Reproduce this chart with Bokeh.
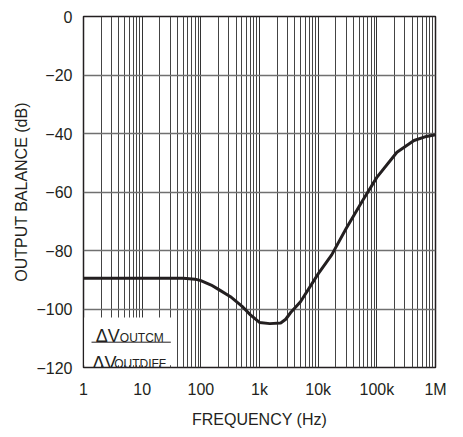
from bokeh.plotting import figure
from bokeh.models import FixedTicker, BoxAnnotation, Label, Range1d
from bokeh.embed import file_html
from bokeh.resources import INLINE

# ---- data ----
freq_hz = [1, 10, 50, 80, 100, 150, 200, 320, 500, 700, 1000, 1500, 2300, 2800,
           3400, 5000, 10000, 17000, 30000, 57000, 100000, 220000, 430000, 700000, 1000000]
balance_db = [-89.5, -89.5, -89.5, -89.8, -90.3, -91.8, -93.3, -95.8, -99.0, -102.0,
              -104.6, -105.0, -104.8, -103.5, -101.2, -97.5, -88.0, -81.5, -72.5, -63.0,
              -55.0, -46.4, -42.4, -41.0, -40.4]
x_ticks = [1, 10, 100, 1000, 10000, 100000, 1000000]
x_tick_labels = ["1", "10", "100", "1k", "10k", "100k", "1M"]
y_ticks = [0, -20, -40, -60, -80, -100, -120]
y_tick_labels = ["0", "\u221220", "\u221240", "\u221260", "\u221280", "\u2212100", "\u2212120"]
x_minor = [m * d for d in [1, 10, 100, 1000, 10000, 100000] for m in range(2, 10)]

FONT = "'Liberation Sans', Arial, sans-serif"
INK = "#231f20"

p = figure(width=463, height=437, x_axis_type="log", output_backend="svg",
           toolbar_location=None, x_range=Range1d(1, 1e6), y_range=Range1d(-120, 0),
           min_border_left=83, min_border_right=28, min_border_top=16, min_border_bottom=70)
p.background_fill_color = "white"
p.border_fill_color = "white"
p.outline_line_color = INK
p.outline_line_width = 1.5

p.xaxis.ticker = FixedTicker(ticks=x_ticks, minor_ticks=x_minor)
p.yaxis.ticker = FixedTicker(ticks=y_ticks)
p.xaxis.major_label_overrides = {float(t): l for t, l in zip(x_ticks, x_tick_labels)}
p.yaxis.major_label_overrides = {float(t): l for t, l in zip(y_ticks, y_tick_labels)}

for ax in (p.xaxis[0], p.yaxis[0]):
    ax.axis_line_color = None
    ax.major_tick_line_color = None
    ax.minor_tick_line_color = None
    ax.major_tick_out = 0
    ax.major_tick_in = 0
    ax.minor_tick_out = 0
    ax.minor_tick_in = 0
    ax.major_label_text_font = FONT
    ax.major_label_text_font_size = "16px"
    ax.major_label_text_color = INK
    ax.axis_label_text_font = FONT
    ax.axis_label_text_font_size = "16px"
    ax.axis_label_text_font_style = "normal"
    ax.axis_label_text_color = INK

p.xaxis.axis_label = "FREQUENCY (Hz)"
p.yaxis.axis_label = "OUTPUT BALANCE (dB)"
p.xaxis.major_label_standoff = 13
p.yaxis.major_label_standoff = 11
p.xaxis.axis_label_standoff = 10
p.yaxis.axis_label_standoff = 3

p.xgrid.grid_line_color = "#333333"
p.xgrid.grid_line_width = 1
p.xgrid.minor_grid_line_color = "#444444"
p.xgrid.minor_grid_line_width = 1
p.ygrid.grid_line_color = "#707070"
p.ygrid.grid_line_width = 1.6

# white label box
p.add_layout(BoxAnnotation(left=1.03, right=31.6, bottom=-119.2, top=-102.9,
                           fill_color="white", fill_alpha=1.0, line_color=None,
                           level="underlay"))

p.line(freq_hz, balance_db, line_color=INK, line_width=3)

def lab(x, y, t, size, **kw):
    p.add_layout(Label(x=x, y=y, text=t, text_font=FONT, text_font_size=size,
                       text_color=INK, text_baseline="alphabetic", **kw))

# fraction label
lab(1.62, -109.3, "\u0394V", "18px")
lab(4.16, -110.0, "OUTCM", "12px")
lab(1.42, -118.3, "\u0394V", "18px")
lab(3.33, -118.8, "OUTDIFF", "12px")
p.line([1.37, 30.8], [-111.35, -111.35], line_color=INK, line_width=1)

# chart id
p.add_layout(Label(x=1e6, y=-140.6, text="1992 G120", text_font=FONT,
                   text_font_size="10px", text_color=INK, text_align="right",
                   text_baseline="top"))

# title (mostly above the visible area, as in the reference)
p.add_layout(Label(x=410, y=5.3, text="Output Balance vs Frequency", text_font=FONT,
                   text_font_size="21px", text_font_style="bold", text_color=INK,
                   text_align="center", text_baseline="alphabetic"))

open("out.html", "w").write(file_html(p, INLINE))
